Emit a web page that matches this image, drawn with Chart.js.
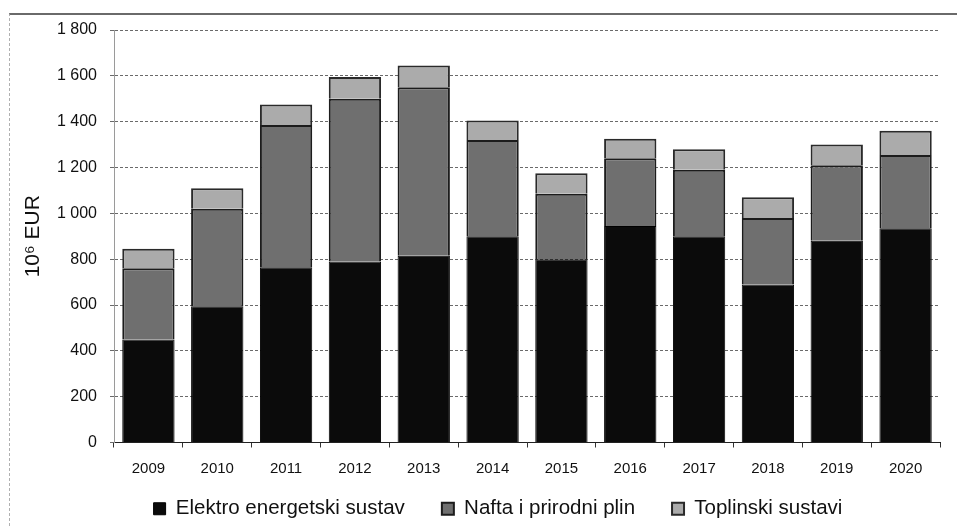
<!DOCTYPE html>
<html>
<head>
<meta charset="utf-8">
<script src="https://cdn.jsdelivr.net/npm/chart.js@4.4.1/dist/chart.umd.min.js"></script>
<style>
  html, body { margin: 0; padding: 0; background: #fff; }
  #wrap { position: relative; width: 957px; height: 526px; }
  #frame {
    position: absolute; left: 9px; top: 13px; right: 0; bottom: 0;
    border-top: 2px solid #6a6a6a; border-left: 1px dashed #b0b0b0;
  }
  canvas { position: absolute; left: 0; top: 0; }
</style>
</head>
<body>
<div id="wrap">
  <div id="frame"></div>
  <canvas id="investChart" width="957" height="526"></canvas>
</div>
<script>
// godine
var years = ['2009', '2010', '2011', '2012', '2013', '2014',
             '2015', '2016', '2017', '2018', '2019', '2020'];

// 10^6 EUR, procijenjeno s grafa
var elektro = [450, 595, 765, 790, 815, 900, 800, 945, 900, 690, 880, 935];
var nafta = [310, 425, 620, 710, 735, 420, 285, 295, 290, 290, 330, 320];
var toplinski = [85, 90, 90, 95, 95, 85, 90, 85, 90, 90, 90, 105];

var seriesNames = ['Elektro energetski sustav', 'Nafta i prirodni plin', 'Toplinski sustavi'];
var yTicks = [0, 200, 400, 600, 800, 1000, 1200, 1400, 1600, 1800];

function fmt(v) {
  var s = String(v);
  if (s.length > 3) s = s.slice(0, s.length - 3) + ' ' + s.slice(s.length - 3);
  return s;
}

// x os je niska (legenda je blizu), pa prosirimo podrucje u kojem se crtaju oznake godina
var labelRoom = {
  id: 'labelRoom',
  afterLayout: function(chart) {
    var x = chart.scales.x;
    x.bottom = x.top + 40;
  }
};

var ctx = document.getElementById('investChart').getContext('2d');

var investChart = new Chart(ctx, {
  type: 'bar',
  data: {
    labels: years,
    datasets: [
      {
        label: seriesNames[0],
        data: elektro,
        backgroundColor: '#0b0b0b',
        borderColor: '#000',
        borderWidth: 1
      },
      {
        label: seriesNames[1],
        data: nafta,
        backgroundColor: '#6f6f6f',
        borderColor: '#1c1c1c',
        borderWidth: 2
      },
      {
        label: seriesNames[2],
        data: toplinski,
        backgroundColor: '#ababab',
        borderColor: '#2a2a2a',
        borderWidth: 2
      }
    ]
  },
  plugins: [labelRoom],
  options: {
    responsive: false,
    animation: false,
    categoryPercentage: 0.76,
    barPercentage: 1,
    // lijevi padding centrira legendu kao na originalu
    layout: { padding: { left: 56, right: 17, top: 30, bottom: -3 } },
    plugins: {
      tooltip: { enabled: false },
      legend: {
        position: 'bottom',
        labels: {
          boxWidth: 12,
          boxHeight: 12,
          padding: 37,
          color: '#111',
          font: { family: 'Liberation Sans', size: 20.5 }
        }
      }
    },
    scales: {
      x: {
        stacked: true,
        afterFit: function(scale) { scale.height = 19; },
        grid: { drawOnChartArea: false, drawTicks: true, tickLength: 5, color: '#333' },
        border: { color: '#222', width: 1 },
        ticks: {
          color: '#111',
          padding: 12,
          font: { family: 'Liberation Sans', size: 15 }
        }
      },
      y: {
        stacked: true,
        min: 0,
        max: 1800,
        afterFit: function(scale) { scale.width = 58; },
        afterBuildTicks: function(scale) {
          scale.ticks = yTicks.map(function(v) { return { value: v }; });
        },
        title: {
          display: true,
          text: '10\u2076 EUR',
          color: '#111',
          font: { family: 'Liberation Sans', size: 21 },
          padding: { top: -35, bottom: 0 }
        },
        grid: { color: '#6a6a6a', tickLength: 4, borderDash: [6, 2] },
        border: { color: '#9a9a9a', dash: [3, 2] },
        ticks: {
          color: '#111',
          padding: 13,
          font: { family: 'Liberation Sans', size: 16 },
          callback: function(v) { return fmt(v); }
        }
      }
    }
  }
});
</script>
</body>
</html>
